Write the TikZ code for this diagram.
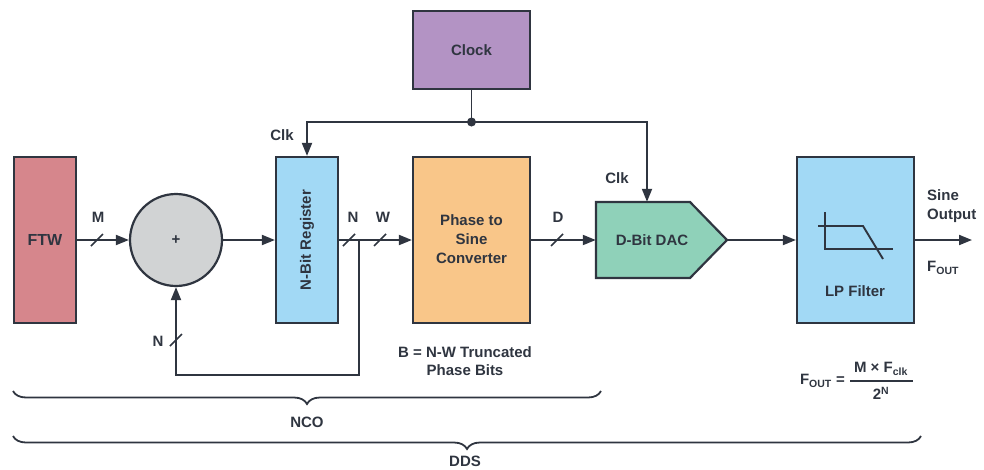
\documentclass[tikz,border=0pt]{standalone}
\usepackage{fontspec}
\setmainfont{Liberation Sans}
\usetikzlibrary{arrows.meta,decorations.pathreplacing,calc}
\definecolor{ink}{HTML}{2F3540}
\definecolor{ftwc}{HTML}{D6868C}
\definecolor{addc}{HTML}{D1D3D4}
\definecolor{regc}{HTML}{A2D9F5}
\definecolor{phc}{HTML}{F9C689}
\definecolor{clkc}{HTML}{B393C4}
\definecolor{dacc}{HTML}{8FD1B9}
\begin{document}
\begin{tikzpicture}[x=1pt,y=-1pt,
  every node/.style={font=\fontsize{15}{17}\selectfont\bfseries, text=ink},
  blk/.style={draw=ink, line width=2.2pt, inner sep=0pt},
  wire/.style={draw=ink, line width=1.9pt},
  arr/.style={wire, -{Triangle[length=13pt,width=10pt]}},
  slash/.style={draw=ink, line width=1.6pt},
  lbl/.style={inner sep=0pt}
]
\useasboundingbox (0,0) rectangle (984,469);
% blocks
\node[blk, fill=ftwc, minimum width=62pt, minimum height=166pt, font=\fontsize{16}{18}\selectfont\bfseries] (ftw) at (45,240) {FTW};
\node[blk, circle, fill=addc, minimum size=92pt] (add) at (176,240) {+};
\node[blk, fill=regc, minimum width=62pt, minimum height=166pt] (reg) at (307,240) {};
\node[lbl, rotate=90] (regt) at (reg.center) {N-Bit Register};
\node[blk, fill=phc, minimum width=117pt, minimum height=166pt] (ph) at (471.5,240) {};
\node[lbl, align=center, font=\fontsize{15}{19}\selectfont\bfseries] (pht) at (471.5,239) {Phase to\\Sine\\Converter};
\node[blk, fill=clkc, minimum width=117pt, minimum height=78pt] (clk) at (471.5,50) {Clock};
% DAC (pentagon)
\filldraw[fill=dacc, draw=ink, line width=2.2pt, line join=miter] (596,202) -- (690,202) -- (727,240) -- (690,278) -- (596,278) -- cycle;
\node[inner sep=0pt, minimum width=131pt, minimum height=76pt] (dac) at (661.5,240) {};
\node[lbl] (dact) at (652,240) {D-Bit DAC};
\node[blk, fill=regc, minimum width=117pt, minimum height=166pt] (lp) at (855.5,240) {};
\node[lbl] (lpt) at (855,291) {LP Filter};
% filter icon
\draw[wire] (825,212) -- (825,249) -- (893,249);
\draw[wire] (818,226) -- (863,226) -- (883,259);
% clock distribution
\coordinate (jn) at (471.5,122);
\coordinate (split) at (359,240);
\coordinate (fbc) at (176,375);
\coordinate (out) at (972,240);
\draw[wire] (clk.south) -- (jn);
\fill[ink] (jn) circle (4.5pt);
\draw[arr] (jn) -| (reg.north);
\draw[arr] (jn) -| ([xshift=-14.5pt]dac.north);
% data path
\draw[arr] (ftw.east) -- (add.west);
\draw[arr] (add.east) -- (reg.west);
\draw[arr] (reg.east) -- (ph.west);
\draw[arr] (ph.east) -- (dac.west);
\draw[arr] (dac.east) -- (lp.west);
\draw[arr] (lp.east) -- (out);
\draw[arr] (split) |- (fbc) -- (add.south);
% bus slashes
\foreach \sx in {97,349,380,557} \draw[slash] (\sx-6,246) -- (\sx+6,234);
\draw[slash] (170,346) -- (182,334);
% labels
\node[lbl] (lm) at (98,217) {M};
\node[lbl] (ln) at (353,217) {N};
\node[lbl] (lw) at (383,217) {W};
\node[lbl] (ld) at (558,217) {D};
\node[lbl] (lnf) at (158,341) {N};
\node[lbl] (lc1) at (282,135) {Clk};
\node[lbl] (lc2) at (617,178) {Clk};
\node[lbl, align=center, font=\fontsize{15}{18}\selectfont\bfseries] (trunc) at (465,361) {B = N-W Truncated\\Phase Bits};
\node[lbl, anchor=west, align=left, font=\fontsize{15}{19}\selectfont\bfseries] (sine) at (927,206) {Sine\\Output};
\node[lbl, anchor=west] (fo) at (927,268) {F\textsubscript{OUT}};
% formula
\node[lbl, anchor=east] (feq) at (845,381) {F\textsubscript{OUT} =};
\node[lbl] (num) at (881,369) {M × F\textsubscript{clk}};
\node[lbl] (den) at (881,393) {2\textsuperscript{N}};
\draw[draw=ink, line width=1.4pt] (850,381) -- (913,381);
% braces
\draw[draw=ink, line width=1.8pt, decorate, decoration={brace, mirror, amplitude=13pt}] (13,391) -- (601,391);
\draw[draw=ink, line width=1.8pt, decorate, decoration={brace, mirror, amplitude=13pt}] (13,436) -- (921,436);
\node[lbl] (nco) at (307,422) {NCO};
\node[lbl] (dds) at (465,461) {DDS};
\end{tikzpicture}
\end{document}
